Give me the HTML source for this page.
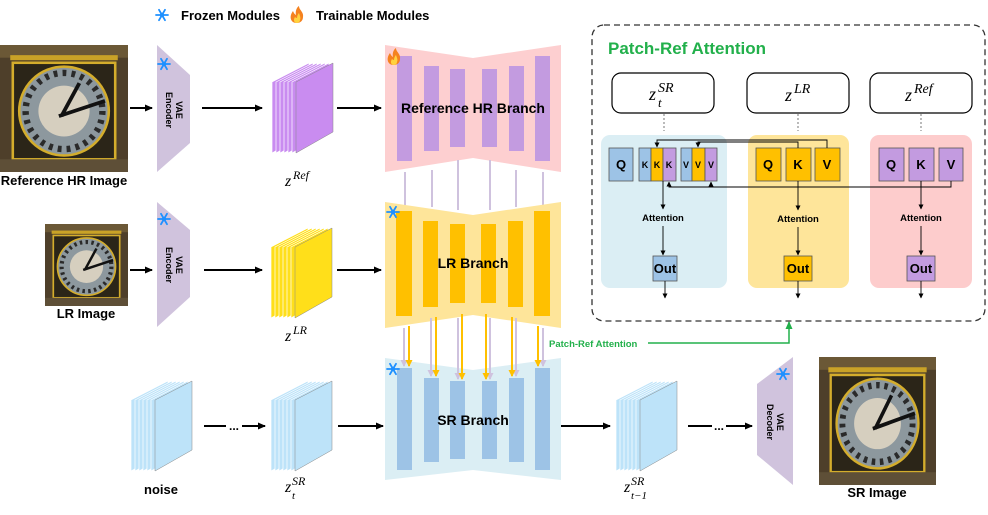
<!DOCTYPE html>
<html><head><meta charset="utf-8">
<style>
html,body{margin:0;padding:0;background:#fff;}
svg{display:block;}
text{font-family:"Liberation Sans","DejaVu Sans",sans-serif;}
.b{font-weight:bold;}
.m{font-family:"Liberation Serif",serif;font-style:italic;}
</style></head><body>
<svg width="988" height="515" viewBox="0 0 988 515" xmlns="http://www.w3.org/2000/svg">
<defs>
<marker id="ah" markerWidth="8" markerHeight="8" refX="7" refY="4" orient="auto" markerUnits="userSpaceOnUse"><path d="M0,0.5 L8,4 L0,7.5z" fill="#000"/></marker>
<marker id="as" markerWidth="5" markerHeight="5" refX="4.5" refY="2.5" orient="auto" markerUnits="userSpaceOnUse"><path d="M0,0 L5,2.5 L0,5z" fill="#000"/></marker>
<marker id="ay" markerWidth="7" markerHeight="7" refX="6" refY="3.5" orient="auto" markerUnits="userSpaceOnUse"><path d="M0,0 L7,3.5 L0,7z" fill="#ffc000"/></marker>
<marker id="ap" markerWidth="7" markerHeight="7" refX="6" refY="3.5" orient="auto" markerUnits="userSpaceOnUse"><path d="M0,0 L7,3.5 L0,7z" fill="#cfc2de"/></marker>
<marker id="ag" markerWidth="8" markerHeight="8" refX="7" refY="4" orient="auto" markerUnits="userSpaceOnUse"><path d="M0,0.5 L8,4 L0,7.5z" fill="#22b04b"/></marker>
<g id="stk" stroke-width="0.7">
<polygon points="0,19 37,0 37,69 0,90" stroke="#fff"/>
<polygon points="4,19 41,0 41,69 4,90" stroke="#fff"/>
<polygon points="8,19 45,0 45,69 8,90" stroke="#fff"/>
<polygon points="12,19 49,0 49,69 12,90" stroke="#fff"/>
<polygon points="16,19 53,0 53,69 16,90" stroke="#fff"/>
<polygon points="20,19 57,0 57,69 20,90" stroke="#fff"/>
<polygon points="24,19 61,0 61,69 24,90" stroke="#888" stroke-width="0.5"/>
</g>
<symbol id="clk" viewBox="0 0 100 100" preserveAspectRatio="none">
<rect width="100" height="100" fill="#4e3f2a"/>
<rect x="0" y="0" width="100" height="10" fill="#6b5836"/>
<rect x="8" y="8" width="84" height="4" fill="#c9a227"/>
<rect x="10" y="14" width="80" height="76" fill="#2b2518" stroke="#d4ad2c" stroke-width="2"/>
<circle cx="50" cy="52" r="35" fill="#8d989e" stroke="#d4ad2c" stroke-width="2"/>
<circle cx="50" cy="52" r="30" fill="none" stroke="#2a2a2a" stroke-width="5" stroke-dasharray="3 4"/>
<circle cx="50" cy="52" r="20" fill="#d6cfbf"/>
<line x1="46" y1="56" x2="82" y2="44" stroke="#111" stroke-width="3"/>
<line x1="48" y1="56" x2="62" y2="30" stroke="#111" stroke-width="3"/>
<rect x="0" y="90" width="100" height="10" fill="#5e4f37"/>
</symbol>
<g id="snow" stroke="#1e90ff" stroke-width="1.8" stroke-linecap="round">
<line x1="-6" y1="0" x2="6" y2="0"/><line x1="-3" y1="-5.2" x2="3" y2="5.2"/><line x1="3" y1="-5.2" x2="-3" y2="5.2"/>
<circle r="2.2" fill="#1e90ff" stroke="none"/>
</g>
<g id="fire">
<path d="M0,8 C-7,8 -8,1 -4,-4 C-3,-1 -1,0 -1,0 C-2,-4 0,-8 2,-9 C2,-5 7,-3 6,2 C6,6 3,8 0,8z" fill="#f5821f"/>
<path d="M0,8 C-3,8 -4,5 -2,2 C-1,3 0,3 0,3 C0,1 1,-1 2,-2 C3,1 4,3 3,5 C3,7 1,8 0,8z" fill="#ffd23f"/>
</g>
</defs>

<use href="#snow" x="162" y="15"/>
<text x="181" y="20" class="b" font-size="13">Frozen Modules</text>
<use href="#fire" x="297" y="15"/>
<text x="316" y="20" class="b" font-size="13">Trainable Modules</text>

<use href="#clk" x="0" y="45" width="128" height="127"/>
<text x="64" y="185" class="b" font-size="13" text-anchor="middle">Reference HR Image</text>
<use href="#clk" x="45" y="224" width="83" height="82"/>
<text x="86" y="318" class="b" font-size="13" text-anchor="middle">LR Image</text>
<use href="#clk" x="819" y="357" width="117" height="128"/>
<text x="877" y="497" class="b" font-size="13" text-anchor="middle">SR Image</text>

<polygon points="157,45 190,75 190,143 157,172" fill="#d0c3dd"/>
<use href="#snow" x="164" y="64"/>
<text transform="translate(176,110) rotate(90)" class="b" font-size="9" text-anchor="middle">VAE</text>
<text transform="translate(166,110) rotate(90)" class="b" font-size="9" text-anchor="middle">Encoder</text>
<polygon points="157,202 190,230 190,297 157,327" fill="#d0c3dd"/>
<use href="#snow" x="164" y="219"/>
<text transform="translate(176,265) rotate(90)" class="b" font-size="9" text-anchor="middle">VAE</text>
<text transform="translate(166,265) rotate(90)" class="b" font-size="9" text-anchor="middle">Encoder</text>
<polygon points="757,384 793,357 793,485 757,455" fill="#d0c3dd"/>
<use href="#snow" x="783" y="374"/>
<text transform="translate(777,422) rotate(90)" class="b" font-size="9" text-anchor="middle">VAE</text>
<text transform="translate(767,422) rotate(90)" class="b" font-size="9" text-anchor="middle">Decoder</text>

<use href="#stk" x="272" y="63" fill="#c98cf0"/>
<use href="#stk" x="271" y="228" fill="#ffdf1a"/>
<use href="#stk" x="131" y="381" fill="#bde3f9"/>
<use href="#stk" x="271" y="381" fill="#bde3f9"/>
<use href="#stk" x="616" y="381" fill="#bde3f9"/>

<text x="285" y="186" class="m" font-size="16">z</text><text x="293" y="179" class="m" font-size="12">Ref</text>
<text x="285" y="341" class="m" font-size="16">z</text><text x="293" y="334" class="m" font-size="12">LR</text>
<text x="161" y="494" class="b" font-size="13" text-anchor="middle">noise</text>
<text x="285" y="492" class="m" font-size="16">z</text><text x="292" y="485" class="m" font-size="12">SR</text><text x="292" y="499" class="m" font-size="11">t</text>
<text x="624" y="492" class="m" font-size="16">z</text><text x="631" y="485" class="m" font-size="12">SR</text><text x="631" y="499" class="m" font-size="11">t−1</text>

<g stroke="#000" stroke-width="2" fill="none">
<line x1="130" y1="108" x2="152" y2="108" marker-end="url(#ah)"/>
<line x1="202" y1="108" x2="262" y2="108" marker-end="url(#ah)"/>
<line x1="337" y1="108" x2="381" y2="108" marker-end="url(#ah)"/>
<line x1="130" y1="270" x2="152" y2="270" marker-end="url(#ah)"/>
<line x1="204" y1="270" x2="262" y2="270" marker-end="url(#ah)"/>
<line x1="337" y1="270" x2="381" y2="270" marker-end="url(#ah)"/>
<line x1="204" y1="426" x2="226" y2="426"/>
<line x1="242" y1="426" x2="265" y2="426" marker-end="url(#ah)"/>
<line x1="338" y1="426" x2="383" y2="426" marker-end="url(#ah)"/>
<line x1="558" y1="426" x2="610" y2="426" marker-end="url(#ah)"/>
<line x1="688" y1="426" x2="712" y2="426"/>
<line x1="726" y1="426" x2="752" y2="426" marker-end="url(#ah)"/>
</g>
<text x="234" y="430" class="b" font-size="12" text-anchor="middle">...</text>
<text x="719" y="430" class="b" font-size="12" text-anchor="middle">...</text>

<polygon points="385,45 473,58 561,45 561,172 473,158 385,172" fill="#fdcfd0"/>
<g fill="#c39be0">
<rect x="397" y="56" width="15" height="105"/><rect x="424" y="66" width="15" height="85"/>
<rect x="450" y="69" width="15" height="78"/><rect x="482" y="69" width="15" height="78"/>
<rect x="509" y="66" width="15" height="85"/><rect x="535" y="56" width="15" height="105"/>
</g>
<use href="#fire" x="394" y="57"/>
<text x="473" y="113" class="b" font-size="14" text-anchor="middle">Reference HR Branch</text>

<g stroke="#cfc2de" stroke-width="2">
<line x1="405" y1="172" x2="405" y2="205"/><line x1="432" y1="170" x2="432" y2="207"/>
<line x1="458" y1="160" x2="458" y2="210"/><line x1="490" y1="160" x2="490" y2="210"/>
<line x1="516" y1="170" x2="516" y2="207"/><line x1="543" y1="172" x2="543" y2="205"/>
</g>

<polygon points="385,202 473,215 561,202 561,328 473,315 385,328" fill="#fee59a"/>
<g fill="#ffc000">
<rect x="396" y="211" width="16" height="105"/><rect x="423" y="221" width="15" height="86"/>
<rect x="450" y="224" width="15" height="79"/><rect x="481" y="224" width="15" height="79"/>
<rect x="508" y="221" width="15" height="86"/><rect x="534" y="211" width="16" height="105"/>
</g>
<use href="#snow" x="393" y="212"/>
<text x="473" y="268" class="b" font-size="14" text-anchor="middle">LR Branch</text>

<polygon points="385,358 473,370 561,358 561,480 473,470 385,480" fill="#dbeef4"/>
<g fill="#9dc3e6">
<rect x="397" y="368" width="15" height="102"/><rect x="424" y="378" width="15" height="84"/>
<rect x="450" y="381" width="15" height="78"/><rect x="482" y="381" width="15" height="78"/>
<rect x="509" y="378" width="15" height="84"/><rect x="535" y="368" width="15" height="102"/>
</g>
<use href="#snow" x="393" y="369"/>
<text x="473" y="425" class="b" font-size="14" text-anchor="middle">SR Branch</text>

<g stroke="#cfc2de" stroke-width="2">
<line x1="404" y1="328" x2="404" y2="366" marker-end="url(#ap)"/>
<line x1="431" y1="318" x2="431" y2="376" marker-end="url(#ap)"/>
<line x1="458" y1="318" x2="458" y2="379" marker-end="url(#ap)"/>
<line x1="490" y1="318" x2="490" y2="379" marker-end="url(#ap)"/>
<line x1="516" y1="318" x2="516" y2="376" marker-end="url(#ap)"/>
<line x1="543" y1="328" x2="543" y2="366" marker-end="url(#ap)"/>
</g>
<g stroke="#ffc000" stroke-width="2">
<line x1="409" y1="326" x2="409" y2="366" marker-end="url(#ay)"/>
<line x1="436" y1="317" x2="436" y2="376" marker-end="url(#ay)"/>
<line x1="462" y1="314" x2="462" y2="379" marker-end="url(#ay)"/>
<line x1="486" y1="314" x2="486" y2="379" marker-end="url(#ay)"/>
<line x1="512" y1="317" x2="512" y2="376" marker-end="url(#ay)"/>
<line x1="538" y1="326" x2="538" y2="366" marker-end="url(#ay)"/>
</g>

<text x="549" y="347" class="b" font-size="9.5" fill="#22b04b">Patch-Ref Attention</text>
<polyline points="648,343 789,343 789,322" fill="none" stroke="#22b04b" stroke-width="1.5" marker-end="url(#ag)"/>

<rect x="592" y="25" width="393" height="296" rx="12" fill="none" stroke="#333" stroke-width="1.3" stroke-dasharray="6 4"/>
<text x="608" y="54" class="b" font-size="17" fill="#22b04b">Patch-Ref Attention</text>
<g fill="#fff" stroke="#000" stroke-width="1.2">
<rect x="612" y="73" width="102" height="40" rx="9"/>
<rect x="747" y="73" width="102" height="40" rx="9"/>
<rect x="870" y="73" width="102" height="40" rx="9"/>
</g>
<text x="649" y="100" class="m" font-size="18">z</text><text x="658" y="92" class="m" font-size="14">SR</text><text x="658" y="107" class="m" font-size="13">t</text>
<text x="785" y="101" class="m" font-size="18">z</text><text x="794" y="93" class="m" font-size="14">LR</text>
<text x="905" y="101" class="m" font-size="18">z</text><text x="914" y="93" class="m" font-size="14">Ref</text>
<g stroke="#555" stroke-width="0.8" stroke-dasharray="2 2">
<line x1="664" y1="114" x2="664" y2="131"/><line x1="798" y1="114" x2="798" y2="131"/><line x1="921" y1="114" x2="921" y2="131"/>
</g>
<rect x="601" y="135" width="126" height="153" rx="9" fill="#dbeef4"/>
<rect x="748" y="135" width="101" height="153" rx="9" fill="#fee59a"/>
<rect x="870" y="135" width="102" height="153" rx="9" fill="#fdcccc"/>
<g stroke="#555" stroke-width="0.8">
<rect x="609" y="148" width="24" height="33" fill="#9dc3e6"/>
<rect x="639" y="148" width="12" height="33" fill="#9dc3e6"/>
<rect x="651" y="148" width="12" height="33" fill="#ffc000"/>
<rect x="663" y="148" width="13" height="33" fill="#c39be0"/>
<rect x="681" y="148" width="11" height="33" fill="#9dc3e6"/>
<rect x="692" y="148" width="13" height="33" fill="#ffc000"/>
<rect x="705" y="148" width="12" height="33" fill="#c39be0"/>
<rect x="756" y="148" width="25" height="33" fill="#ffc000"/>
<rect x="786" y="148" width="25" height="33" fill="#ffc000"/>
<rect x="815" y="148" width="25" height="33" fill="#ffc000"/>
<rect x="879" y="148" width="25" height="33" fill="#c39be0"/>
<rect x="909" y="148" width="25" height="33" fill="#c39be0"/>
<rect x="939" y="148" width="24" height="33" fill="#c39be0"/>
<rect x="653" y="256" width="24" height="25" fill="#9dc3e6"/>
<rect x="784" y="256" width="28" height="25" fill="#ffc000"/>
<rect x="907" y="256" width="28" height="25" fill="#c39be0"/>
</g>
<g class="b" font-size="13" text-anchor="middle">
<text x="621" y="169">Q</text><text x="768" y="169">Q</text><text x="798" y="169">K</text><text x="827" y="169">V</text>
<text x="891" y="169">Q</text><text x="921" y="169">K</text><text x="951" y="169">V</text>
<text x="665" y="273">Out</text><text x="798" y="273">Out</text><text x="921" y="273">Out</text>
</g>
<g class="b" font-size="9" text-anchor="middle">
<text x="645" y="168">K</text><text x="657" y="168">K</text><text x="669" y="168">K</text>
<text x="686" y="168">V</text><text x="698" y="168">V</text><text x="711" y="168">V</text>
</g>
<g class="b" font-size="9.5" text-anchor="middle">
<text x="663" y="221">Attention</text><text x="798" y="222">Attention</text><text x="921" y="221">Attention</text>
</g>
<g stroke="#000" stroke-width="0.9" fill="none">
<polyline points="827,148 827,140 657,140 657,147" marker-end="url(#as)"/>
<polyline points="798,148 798,142 698,142 698,147" marker-end="url(#as)"/>
<polyline points="951,181 951,187 669,187 669,182" marker-end="url(#as)"/>
<polyline points="921,181 921,187 711,187 711,182" marker-end="url(#as)"/>
<line x1="663" y1="181" x2="663" y2="209" marker-end="url(#as)"/>
<line x1="663" y1="226" x2="663" y2="255" marker-end="url(#as)"/>
<line x1="665" y1="281" x2="665" y2="298" marker-end="url(#as)"/>
<line x1="798" y1="181" x2="798" y2="210" marker-end="url(#as)"/>
<line x1="798" y1="227" x2="798" y2="255" marker-end="url(#as)"/>
<line x1="798" y1="281" x2="798" y2="298" marker-end="url(#as)"/>
<line x1="921" y1="181" x2="921" y2="209" marker-end="url(#as)"/>
<line x1="921" y1="226" x2="921" y2="255" marker-end="url(#as)"/>
<line x1="921" y1="281" x2="921" y2="298" marker-end="url(#as)"/>
</g>
</svg>
</body></html>
